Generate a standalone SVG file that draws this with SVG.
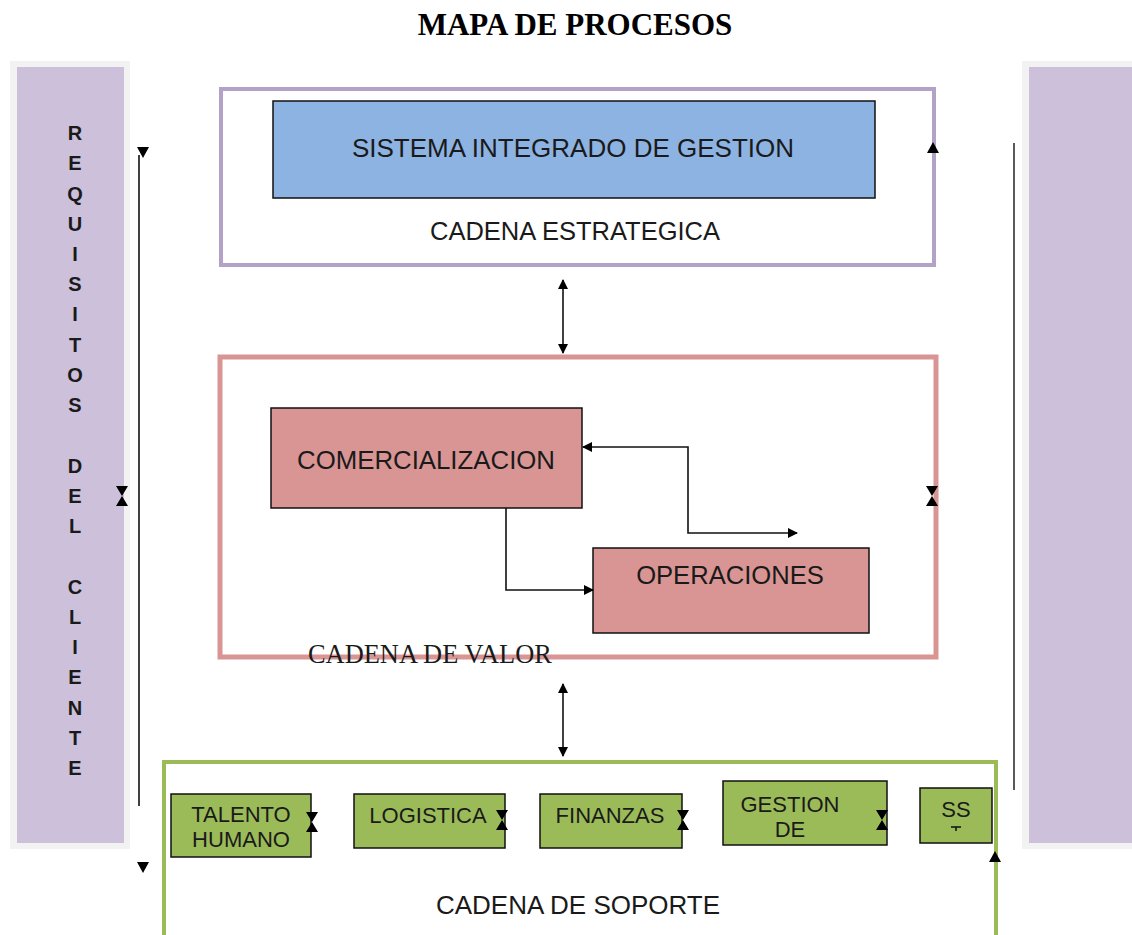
<svg xmlns="http://www.w3.org/2000/svg" width="1132" height="935" viewBox="0 0 1132 935">
<defs>
<style>
.t{font-family:"Liberation Sans",Arial,sans-serif;fill:#1a1a1a;text-anchor:middle}
.v{font-family:"Liberation Sans",Arial,sans-serif;font-weight:bold;font-size:20px;fill:#1a1a1a;text-anchor:middle}
.ln{stroke:#111;stroke-width:1.6;fill:none}
.g{fill:#9BBB59;stroke:#111;stroke-width:1.5}
</style>
<marker id="ah" viewBox="0 0 10 10" refX="9" refY="5" markerWidth="10" markerHeight="10" markerUnits="userSpaceOnUse" orient="auto-start-reverse">
<path d="M0,0 L10,5 L0,10 z" fill="#000"/>
</marker>
<path id="hg" d="M-6,-10 L6,-10 L0,0 L6,10 L-6,10 L0,0 z" fill="#000"/>
<path id="tri" d="M-6,0 L6,0 L0,11 z" fill="#000"/>
</defs>
<rect width="1132" height="935" fill="#fff"/>
<text x="575" y="35" font-family="Liberation Serif,'Times New Roman',serif" font-weight="bold" font-size="31" text-anchor="middle" fill="#000">MAPA DE PROCESOS</text>

<g id="requisitos">
<rect x="10" y="61" width="120" height="788" fill="#f2f2f2"/>
<rect x="17" y="67" width="107" height="776" fill="#CCC0DA"/>
<text class="v" x="75" y="140">R</text>
<text class="v" x="75" y="170">E</text>
<text class="v" x="75" y="201">Q</text>
<text class="v" x="75" y="231">U</text>
<text class="v" x="75" y="261">I</text>
<text class="v" x="75" y="291">S</text>
<text class="v" x="75" y="321">I</text>
<text class="v" x="75" y="352">T</text>
<text class="v" x="75" y="382">O</text>
<text class="v" x="75" y="412">S</text>
<text class="v" x="75" y="473">D</text>
<text class="v" x="75" y="503">E</text>
<text class="v" x="75" y="533">L</text>
<text class="v" x="75" y="594">C</text>
<text class="v" x="75" y="624">L</text>
<text class="v" x="75" y="654">I</text>
<text class="v" x="75" y="684">E</text>
<text class="v" x="75" y="715">N</text>
<text class="v" x="75" y="745">T</text>
<text class="v" x="75" y="775">E</text>
</g>

<g id="panel-derecho">
<rect x="1022" y="61" width="110" height="788" fill="#f2f2f2"/>
<rect x="1029" y="67" width="103" height="776" fill="#CCC0DA"/>
</g>

<g id="cadena-estrategica">
<rect x="221" y="89" width="713" height="176" fill="#fff" stroke="#B3A2C7" stroke-width="4"/>
<g id="sig">
<rect x="273" y="101" width="602" height="97" fill="#8DB3E2" stroke="#111" stroke-width="1.5"/>
<text class="t" x="573" y="157" font-size="26">SISTEMA INTEGRADO DE GESTION</text>
</g>
<text class="t" x="575" y="240" font-size="25.5">CADENA ESTRATEGICA</text>
</g>

<g id="cadena-valor">
<rect x="220" y="357" width="716" height="300" fill="#fff" stroke="#D99594" stroke-width="5"/>
<g id="comercializacion">
<rect x="271" y="408" width="311" height="100" fill="#D99594" stroke="#111" stroke-width="1.5"/>
<text class="t" x="426" y="469" font-size="25.8">COMERCIALIZACION</text>
</g>
<g id="operaciones">
<rect x="593" y="548" width="276" height="85" fill="#D99594" stroke="#111" stroke-width="1.5"/>
<text class="t" x="730" y="584" font-size="25.6">OPERACIONES</text>
</g>
<text x="308" y="663" font-family="Liberation Serif,'Times New Roman',serif" font-size="26.4" fill="#1a1a1a">CADENA DE VALOR</text>
</g>

<g id="cadena-soporte">
<rect x="164" y="762" width="832" height="180" fill="#fff" stroke="#9BBB59" stroke-width="4"/>
<g id="talento"><rect class="g" x="171" y="794" width="140" height="63"/>
<text class="t" x="241" y="822" font-size="22">TALENTO</text><text class="t" x="241" y="847" font-size="22">HUMANO</text></g>
<g id="logistica"><rect class="g" x="354" y="794" width="151" height="54"/>
<text class="t" x="428" y="823" font-size="22">LOGISTICA</text></g>
<g id="finanzas"><rect class="g" x="540" y="794" width="142" height="54"/>
<text class="t" x="610" y="823" font-size="22">FINANZAS</text></g>
<g id="gestion"><rect class="g" x="723" y="781" width="164" height="64"/>
<text class="t" x="790" y="812" font-size="22">GESTION</text><text class="t" x="790" y="837" font-size="22">DE</text></g>
<g id="ss"><rect class="g" x="920" y="788" width="72" height="55"/>
<text class="t" x="956" y="817" font-size="22">SS</text>
<path d="M951,827 L961,827 M956,827 L956,831" stroke="#111" stroke-width="1.5"/></g>
<text class="t" x="578" y="914" font-size="26">CADENA DE SOPORTE</text>
</g>

<g id="conectores">
<line class="ln" x1="139" y1="155" x2="139" y2="806"/>
<use href="#tri" x="143" y="147"/>
<use href="#tri" x="143" y="862"/>
<line x1="1014" y1="143" x2="1014" y2="790" stroke="#222" stroke-width="1.5"/>
<path d="M927,153 L939,153 L933,142 z" fill="#000"/>
<path d="M989,862 L1001,862 L995,851 z" fill="#000"/>
<line class="ln" x1="563" y1="280" x2="563" y2="353" marker-start="url(#ah)" marker-end="url(#ah)"/>
<line class="ln" x1="563" y1="684" x2="563" y2="756" marker-start="url(#ah)" marker-end="url(#ah)"/>
<path class="ln" d="M583,447 L688,447 L688,533 L797,533" marker-start="url(#ah)" marker-end="url(#ah)"/>
<path class="ln" d="M506,508 L506,590 L593,590" marker-end="url(#ah)"/>
<use href="#hg" x="122" y="496"/>
<use href="#hg" x="932" y="496"/>
<use href="#hg" x="312" y="822"/>
<use href="#hg" x="502" y="820"/>
<use href="#hg" x="683" y="820"/>
<use href="#hg" x="882" y="820"/>
</g>
</svg>
